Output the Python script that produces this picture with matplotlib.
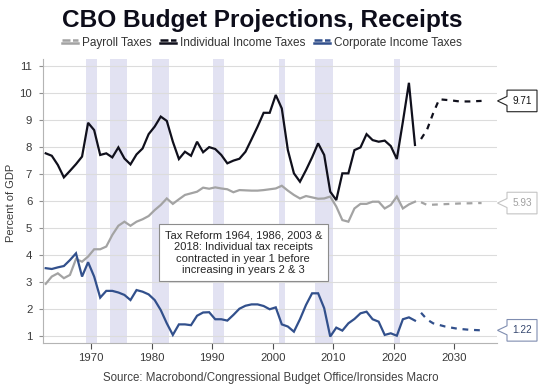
import matplotlib
matplotlib.use("Agg")
import matplotlib.pyplot as plt
from matplotlib.lines import Line2D
from matplotlib.patches import Polygon
from matplotlib.legend_handler import HandlerBase
import numpy as np

plt.rcParams['font.family'] = ['Liberation Sans', 'DejaVu Sans']

# ---------------- data ----------------
years = list(range(1962, 2024))
individual = [7.77, 7.68, 7.34, 6.88, 7.12, 7.37, 7.65, 8.90, 8.63, 7.71,
              7.77, 7.62, 7.99, 7.58, 7.36, 7.73, 7.95, 8.48, 8.76, 9.13,
              8.97, 8.20, 7.56, 7.83, 7.68, 8.20, 7.81, 8.00, 7.93, 7.71,
              7.40, 7.50, 7.57, 7.83, 8.29, 8.76, 9.27, 9.27, 9.93, 9.43,
              7.89, 7.03, 6.72, 7.15, 7.62, 8.14, 7.71, 6.35, 6.04, 7.03,
              7.03, 7.89, 7.99, 8.48, 8.26, 8.20, 8.24, 8.04, 7.56, 8.94,
              10.38, 8.08]
payroll = [2.94, 3.21, 3.33, 3.15, 3.27, 3.86, 3.76, 3.95, 4.22, 4.22,
           4.32, 4.75, 5.09, 5.24, 5.09, 5.24, 5.33, 5.45, 5.67, 5.86,
           6.10, 5.90, 6.07, 6.23, 6.29, 6.35, 6.50, 6.46, 6.51, 6.47,
           6.44, 6.33, 6.41, 6.40, 6.39, 6.39, 6.41, 6.44, 6.47, 6.57,
           6.39, 6.23, 6.10, 6.19, 6.14, 6.09, 6.10, 6.17, 5.80, 5.30,
           5.24, 5.73, 5.90, 5.90, 5.98, 5.98, 5.73, 5.86, 6.17, 5.73,
           5.88, 5.98]
corporate = [3.52, 3.49, 3.55, 3.60, 3.82, 4.07, 3.21, 3.74, 3.21, 2.43,
             2.68, 2.68, 2.62, 2.53, 2.34, 2.71, 2.65, 2.55, 2.34, 1.97,
             1.48, 1.05, 1.44, 1.44, 1.41, 1.76, 1.88, 1.89, 1.63, 1.63,
             1.58, 1.79, 2.02, 2.13, 2.18, 2.18, 2.12, 2.00, 2.07, 1.44,
             1.36, 1.17, 1.63, 2.16, 2.59, 2.59, 2.04, 0.99, 1.32, 1.21,
             1.48, 1.64, 1.85, 1.91, 1.63, 1.54, 1.05, 1.11, 1.02, 1.63,
             1.70, 1.58]

proj_years = list(range(2024, 2035))
individual_proj = [8.30, 8.65, 9.25, 9.77, 9.75, 9.73, 9.70, 9.69, 9.69, 9.70, 9.71]
payroll_proj = [5.96, 5.86, 5.87, 5.88, 5.89, 5.90, 5.91, 5.92, 5.92, 5.93, 5.93]
corporate_proj = [1.87, 1.62, 1.48, 1.42, 1.36, 1.32, 1.28, 1.26, 1.24, 1.23, 1.22]

recessions = [(1969.1, 1971.0), (1973.1, 1976.0), (1980.1, 1982.9), (1990.1, 1992.0),
              (2001.0, 2002.0), (2007.0, 2010.0), (2020.05, 2021.0)]

series_names = ["Payroll Taxes", "Individual Income Taxes", "Corporate Income Taxes"]
last_labels = ["5.93", "9.71", "1.22"]

C_IND = '#10101c'
C_PAY = '#a3a3a3'
C_COR = '#32508c'
C_SHADE = '#e2e2f2'

# ---------------- figure ----------------
W, H = 540, 386
fig = plt.figure(figsize=(W / 100, H / 100), dpi=100)
ax_l, ax_r, ax_t, ax_b = 42.7, 496.7, 59.3, 343.3
ax = fig.add_axes([ax_l / W, 1 - ax_b / H, (ax_r - ax_l) / W, (ax_b - ax_t) / H])

ax.set_xlim(1962, 2037)
ax.set_ylim(0.74, 11.25)

for a, b in recessions:
    ax.axvspan(a, b, color=C_SHADE, lw=0, zorder=0)

x = np.array(years) + 0.5
xp = np.array(proj_years) + 0.5
lw = 1.6
dash = (0, (2.6, 2.6))
ax.plot(x, payroll, color=C_PAY, lw=lw, zorder=3, solid_joinstyle='miter')
ax.plot(x, individual, color=C_IND, lw=lw, zorder=4, solid_joinstyle='miter')
ax.plot(x, corporate, color=C_COR, lw=lw, zorder=3, solid_joinstyle='miter')
ax.plot(xp, payroll_proj, color=C_PAY, lw=lw, ls=dash, zorder=3)
ax.plot(xp, individual_proj, color=C_IND, lw=lw, ls=dash, zorder=4)
ax.plot(xp, corporate_proj, color=C_COR, lw=lw, ls=dash, zorder=3)

ax.set_yticks(range(1, 12))
ax.set_xticks(range(1970, 2031, 10))
ax.grid(axis='y', color='#dcdcdc', lw=0.8, zorder=1)
ax.set_axisbelow(True)
for s in ['top', 'right']:
    ax.spines[s].set_visible(False)
for s in ['left', 'bottom']:
    ax.spines[s].set_color('#b4b4b4')
    ax.spines[s].set_linewidth(0.8)
ax.tick_params(axis='y', length=3, width=0.8, color='#909090', pad=4.5,
               labelsize=8.2, labelcolor='#3a3a3a')
ax.tick_params(axis='x', length=4, width=0.8, color='#505050', pad=3,
               labelsize=8.2, labelcolor='#3a3a3a')

fig.text(11 / W, 1 - 202.7 / H, "Percent of GDP", rotation=90, ha='center', va='center',
         fontsize=8, color='#3a3a3a')

# annotation box
ax.text(0.442, 0.318,
        "Tax Reform 1964, 1986, 2003 &\n2018: Individual tax receipts\ncontracted in year 1 before\nincreasing in years 2 & 3",
        transform=ax.transAxes, ha='center', va='center', fontsize=8, color='#262626',
        linespacing=1.2, zorder=6,
        bbox=dict(boxstyle='square,pad=0.55', fc='white', ec='#8c8c8c', lw=0.8))

# title & legend
fig.text(262.5 / W, 1 - 20 / H, "CBO Budget Projections, Receipts", ha='center', va='center',
         fontsize=17.6, fontweight='bold', color='#0d0d1a')


class DoubleLine(HandlerBase):
    def create_artists(self, legend, orig_handle, xdescent, ydescent, width, height, fontsize, trans):
        c = orig_handle.get_color()
        x0, y0 = -xdescent, -ydescent
        top = Line2D([x0, x0 + width], [y0 + height * 0.72] * 2, color=c, lw=1.8,
                     ls=(0, (3.2, 1.0)), transform=trans)
        bot = Line2D([x0, x0 + width], [y0 + height * 0.28] * 2, color=c, lw=1.8, transform=trans)
        return [top, bot]


handles = [Line2D([], [], color=C_PAY), Line2D([], [], color=C_IND), Line2D([], [], color=C_COR)]
leg = fig.legend(handles, series_names, loc='center', bbox_to_anchor=(262 / W, 1 - 42.7 / H),
                 ncol=3, frameon=False, fontsize=8.5, handlelength=1.35, handletextpad=0.3,
                 columnspacing=0.75, handler_map={Line2D: DoubleLine()}, borderpad=0)
for t in leg.get_texts():
    t.set_color('#333333')

fig.text(270.5 / W, 1 - 378 / H, "Source: Macrobond/Congressional Budget Office/Ironsides Macro",
         ha='center', va='center', fontsize=8.3, color='#404040')

# right-hand callouts with last values
callout_vals = [payroll_proj[-1], individual_proj[-1], corporate_proj[-1]]
callout_txt = ['#a0a0a0', '#111111', '#34466e']
callout_edge = ['#c4c4c4', '#222222', '#7f8db0']
for v, lab, tc, ec in zip(callout_vals, last_labels, callout_txt, callout_edge):
    xd, yd = ax.transData.transform((2037, v))
    px = xd + 0.8
    verts_px = [(px, yd), (px + 9.5, yd + 4.5), (px + 9.5, yd + 10.8), (px + 39.5, yd + 10.8),
                (px + 39.5, yd - 10.8), (px + 9.5, yd - 10.8), (px + 9.5, yd - 4.5)]
    verts = [(a / W, b / H) for a, b in verts_px]
    fig.add_artist(Polygon(verts, closed=True, transform=fig.transFigure, fc='white',
                           ec=ec, lw=0.8, zorder=10))
    fig.text((px + 24.5) / W, yd / H, lab, ha='center', va='center', fontsize=7.2,
             color=tc, zorder=11)

fig.savefig("out.png", dpi=100)
